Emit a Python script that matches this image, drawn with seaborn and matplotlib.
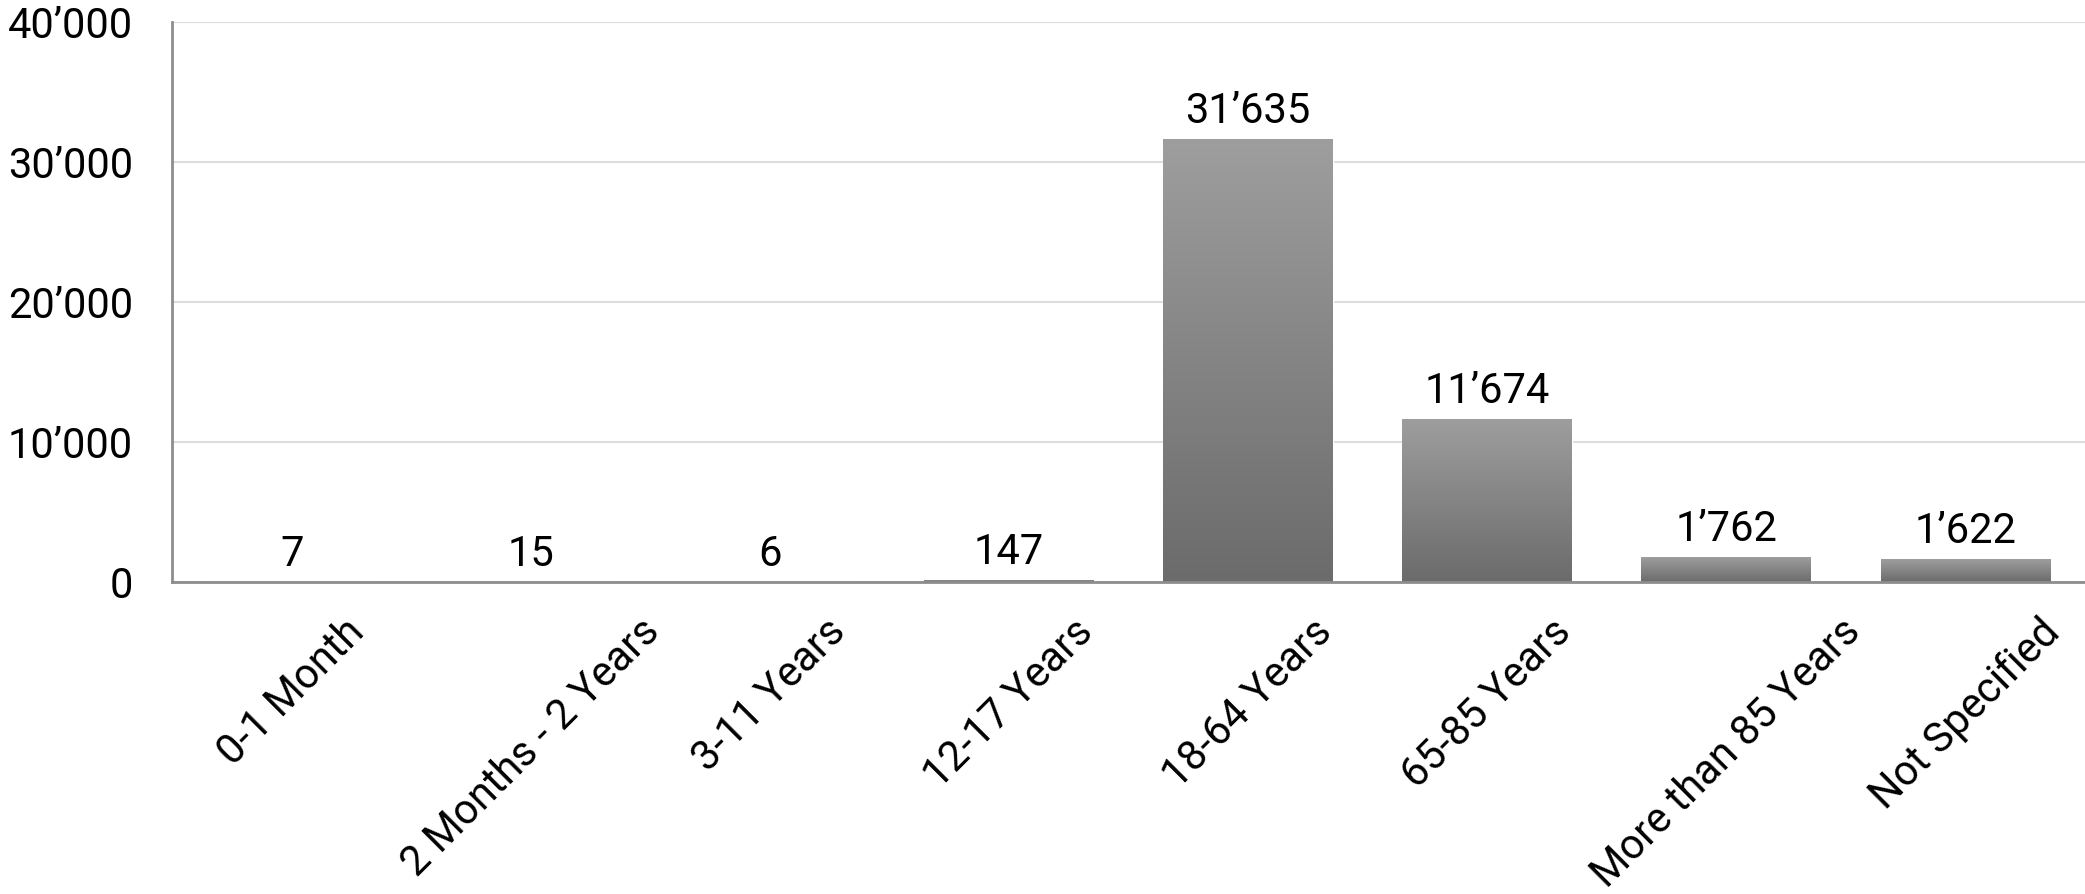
import numpy as np
import pandas as pd
import matplotlib.pyplot as plt
import seaborn as sns
from matplotlib.colors import LinearSegmentedColormap

# Altersgruppen und Fallzahlen
categories = ['0-1 Month', '2 Months - 2 Years', '3-11 Years', '12-17 Years',
              '18-64 Years', '65-85 Years', 'More than 85 Years', 'Not Specified']
counts = [7, 15, 6, 147, 31635, 11674, 1762, 1622]
y_ticks = [0, 10000, 20000, 30000, 40000]


def swiss(v):
    # Tausendertrennzeichen wie im Original: 31’635
    return f"{v:,}".replace(",", "\u2019")


df = pd.DataFrame({'Age': categories, 'Count': counts})

sns.set_theme(style='white')
plt.rcParams['font.family'] = ['Roboto', 'DejaVu Sans']
plt.rcParams['text.color'] = 'black'
plt.rcParams['xtick.color'] = 'black'
plt.rcParams['ytick.color'] = 'black'

fig = plt.figure(figsize=(20.85, 8.94), dpi=100)
ax = fig.add_axes([0.0825, 0.349, 0.9175, 0.6265])

sns.barplot(data=df, x='Age', y='Count', color='#858685', width=0.71,
            saturation=1, ax=ax, zorder=2)

# Farbverlauf in den Balken (oben hell, unten dunkel)
grad = np.linspace(0, 1, 256).reshape(-1, 1)
cmap = LinearSegmentedColormap.from_list('bars', ['#6a6b6a', '#9d9e9d'])
for p in ax.patches:
    x0, y0 = p.get_x(), p.get_y()
    w, h = p.get_width(), p.get_height()
    im = ax.imshow(grad, cmap=cmap, extent=[x0, x0 + w, y0, y0 + h],
                   origin='lower', aspect='auto', zorder=2.1)
    im.set_clip_path(p)

ax.set_xlim(-0.5, 7.5)
ax.set_ylim(0, 40000)

ax.bar_label(ax.containers[0], labels=[swiss(v) for v in counts],
             padding=5, fontsize=30, color='black')

ax.set_yticks(y_ticks)
ax.set_yticklabels([swiss(v) for v in y_ticks], fontsize=30)
ax.tick_params(axis='y', length=0, pad=28, labelcolor='black')
ax.set_xticks(range(len(categories)))
ax.set_xticklabels(categories, rotation=45, ha='center', fontsize=30)
ax.tick_params(axis='x', length=0, pad=21, labelcolor='black')

ax.yaxis.grid(True, color='#dcdcdc', linewidth=1.5)
ax.set_axisbelow(True)
for s in ['top', 'right']:
    ax.spines[s].set_visible(False)
for s in ['left', 'bottom']:
    ax.spines[s].set_color('#8d8d8d')
    ax.spines[s].set_linewidth(2)
    ax.spines[s].set_zorder(3)

ax.set_xlabel('')
ax.set_ylabel('')

plt.savefig('out.png', dpi=100)
